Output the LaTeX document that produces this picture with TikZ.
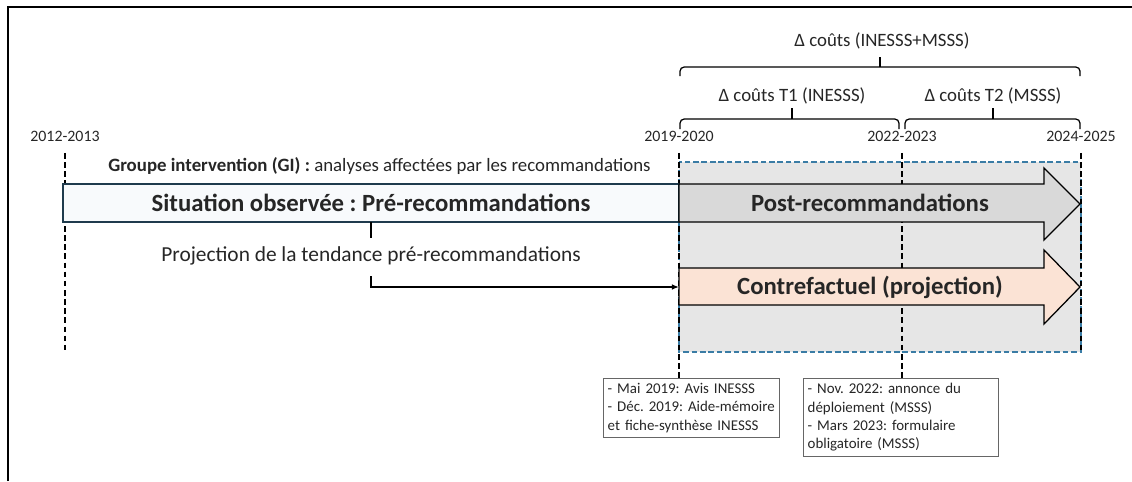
\documentclass[tikz,border=0pt]{standalone}
\usepackage{fontspec}
\setmainfont{Carlito}
\usetikzlibrary{calc,arrows.meta}
\definecolor{obsline}{HTML}{1F3B4D}
\definecolor{obsfill}{HTML}{F8FAFC}
\definecolor{postfill}{HTML}{D9D9D9}
\definecolor{cffill}{HTML}{FBE3D5}
\definecolor{zonefill}{HTML}{E6E6E6}
\definecolor{zoneline}{HTML}{3A7CA5}
\definecolor{txt}{HTML}{262626}
\frenchspacing
\tikzset{
  year/.style={font=\fontsize{11.3}{13}\selectfont, text=txt, inner sep=1pt},
  delta/.style={font=\fontsize{13.4}{15}\selectfont, text=txt, inner sep=1pt},
  big/.style={font=\bfseries\fontsize{17.6}{20}\selectfont, text=txt, inner sep=0pt},
  guide/.style={dashed, line width=0.9pt, dash pattern=on 4pt off 2.5pt},
  bracket/.style={line width=0.9pt, rounded corners=3pt},
  note/.style={draw=black!60, line width=0.7pt, fill=white, align=left, anchor=north west,
    font=\fontsize{10.6}{13}\selectfont, text=txt, inner xsep=3pt, inner ysep=3.5pt},
}

\begin{document}
\begin{tikzpicture}[x=0.025cm,y=-0.025cm]
  \useasboundingbox (0,0) rectangle (1132,481);
  \draw[line width=1.6pt] (8,481) -- (8,7) -- (1132,7);

  % zone post-recommandations
  \draw[fill=zonefill, draw=zoneline, dashed, line width=0.8pt, dash pattern=on 4pt off 2pt] (679,162) rectangle (1081,352);

  % annees
  \node (y12) [year] at (65,136) {2012-2013};
  \node (y19) [year] at (679,136) {2019-2020};
  \node (y22) [year] at (902,136) {2022-2023};
  \node (y24) [year] at (1081,136) {2024-2025};

  % notes
  \node (note1) [note, text width=119pt] at (603,378) {- Mai 2019: Avis INESSS\\- Déc. 2019: Aide-mémoire\\et fiche-synthèse INESSS};
  \node (note2) [note, text width=133pt] at (803,378) {- Nov. 2022: annonce du\\déploiement (MSSS)\\- Mars 2023: formulaire\\obligatoire (MSSS)};

  \draw[guide] ($(y12.south)+(0,10)$) -- (65,352);
  \draw[guide] ($(y19.south)+(0,10)$) -- (y19.south |- note1.north);
  \draw[guide] ($(y22.south)+(0,10)$) -- (y22.south |- note2.north);
  \draw[guide] ($(y24.south)+(0,10)$) -- (1081,352);

  % accolades
  \draw[bracket] (680,76) |- (1080,67) -- (1080,76);
  \draw[bracket] (880,67) -- (880,57);
  \node (tot) [delta] at (882,41) {Δ coûts (INESSS+MSSS)};
  \draw[bracket] (680,129) |- (899,119) -- (899,129);
  \draw[bracket] (792,119) -- (792,108);
  \node (t1) [delta] at (792,96) {Δ coûts T1 (INESSS)};
  \draw[bracket] (905,129) |- (1080,119) -- (1080,129);
  \draw[bracket] (993,119) -- (993,108);
  \node (t2) [delta] at (993,96) {Δ coûts T2 (MSSS)};

  % groupe intervention
  \node (gi) [anchor=west, text=txt, font=\fontsize{13.4}{15}\selectfont, inner sep=0pt] at (108,166)
    {\textbf{Groupe intervention (GI) :} analyses affectées par les recommandations};

  % situation observee
  \draw[draw=obsline, fill=obsfill, line width=0.9pt] (63,184) rectangle (679,222);
  \node (obs) [big, minimum width=616*0.025cm, minimum height=38*0.025cm] at (371,203) {Situation observée : Pré-recommandations};

  % fleches
  \draw[fill=postfill, line width=0.9pt] (679,184) -- (1044,184) -- (1044,168) -- (1080,204) -- (1044,240) -- (1044,222) -- (679,222) -- cycle;
  \node (post) [big] at (870,203) {Post-recommandations};
  \draw[fill=cffill, line width=0.9pt] (679,268) -- (1044,268) -- (1044,250) -- (1080,287) -- (1044,324) -- (1044,305) -- (679,305) -- cycle;
  \node (cf) [big] at (870,287) {Contrefactuel (projection)};
  \coordinate (cftail) at (679,287);

  % projection
  \node (proj) [font=\fontsize{15.2}{17}\selectfont, text=txt] at (371,256) {Projection de la tendance pré-recommandations};
  \draw[line width=1.2pt] (obs.south) -- ($(obs.south)+(0,16)$);
  \draw[line width=1.2pt, -{Latex[length=5pt,width=4pt]}] ($(proj.south)+(0,6)$) |- (cftail);
\end{tikzpicture}
\end{document}
